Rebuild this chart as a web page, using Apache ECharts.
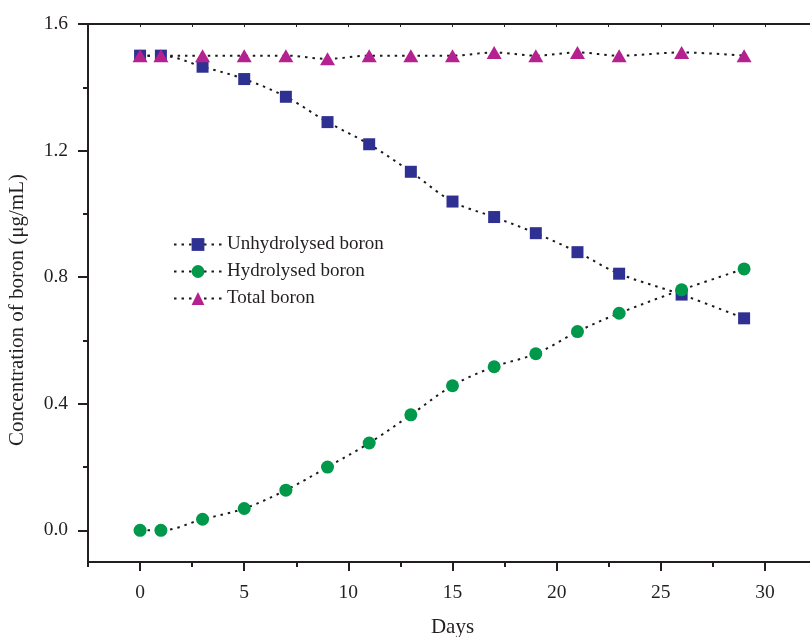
<!DOCTYPE html>
<html>
<head>
<meta charset="utf-8">
<script src="https://cdn.jsdelivr.net/npm/echarts@6/dist/echarts.min.js"></script>
<style>
  html, body { margin: 0; padding: 0; background: #fff; }
  #chart { width: 810px; height: 637px; }
</style>
</head>
<body>
<div id="chart"></div>
<script>
// Boron concentration over time
const days = [0, 1, 3, 5, 7, 9, 11, 13, 15, 17, 19, 21, 23, 26, 29];
const unhydrolysed = [1.50, 1.50, 1.465, 1.426, 1.370, 1.290, 1.220, 1.133, 1.039, 0.990, 0.939, 0.879, 0.811, 0.745, 0.670];
const hydrolysed = [0.0, 0.0, 0.035, 0.069, 0.127, 0.200, 0.276, 0.365, 0.457, 0.517, 0.558, 0.628, 0.686, 0.760, 0.826];
const total = [1.50, 1.50, 1.50, 1.50, 1.50, 1.49, 1.50, 1.50, 1.50, 1.51, 1.50, 1.51, 1.50, 1.51, 1.50];

const seriesNames = ['Unhydrolysed boron', 'Hydrolysed boron', 'Total boron'];

// Tick positions
const xMajorTicks = [0, 5, 10, 15, 20, 25, 30];
const xMinorTicks = [-2.5, 2.5, 7.5, 12.5, 17.5, 22.5, 27.5, 32.5];
const yMajorTicks = [0, 0.4, 0.8, 1.2, 1.6];
const yMinorTicks = [0.2, 0.6, 1.0, 1.4];

const FONT = '"Liberation Serif", "Times New Roman", serif';
const INK = '#231f20';
const X_MIN = -2.5, X_MAX = 32.5, Y_MIN = -0.1, Y_MAX = 1.6;

const pair = (xs, ys) => xs.map((x, i) => [x, ys[i]]);

const dotted = { color: '#1a1a1a', width: 2, type: [2.5, 5] };

const chart = echarts.init(document.getElementById('chart'), null, { renderer: 'canvas' });

chart.setOption({
  animation: false,
  backgroundColor: '#fff',
  grid: { left: 88, right: -7, top: 24, bottom: 75, containLabel: false, outerBoundsMode: 'none' },
  legend: {
    orient: 'vertical',
    left: 173,
    top: 235,
    padding: 0,
    itemWidth: 48,
    itemHeight: 16,
    itemGap: 8,
    data: seriesNames,
    textStyle: { fontFamily: FONT, fontSize: 19, color: INK }
  },
  xAxis: [
    {
      type: 'value', position: 'bottom', min: X_MIN, max: X_MAX,
      name: 'Days', nameLocation: 'middle', nameGap: 55,
      nameTextStyle: { fontFamily: FONT, fontSize: 21, color: INK },
      axisLine: { show: true, onZero: false, lineStyle: { color: INK, width: 2 } },
      axisTick: { show: true, inside: false, length: 9, customValues: xMajorTicks, lineStyle: { color: INK, width: 2 } },
      axisLabel: { show: true, margin: 21, customValues: xMajorTicks, fontFamily: FONT, fontSize: 19.5, color: INK },
      splitLine: { show: false }
    },
    {
      type: 'value', position: 'bottom', min: X_MIN, max: X_MAX,
      axisLine: { show: false, onZero: false },
      axisTick: { show: true, inside: false, length: 5, customValues: xMinorTicks, lineStyle: { color: INK, width: 2 } },
      axisLabel: { show: false },
      splitLine: { show: false }
    },
    {
      type: 'value', position: 'top', min: X_MIN, max: X_MAX, interval: 2.5,
      axisLine: { show: true, onZero: false, lineStyle: { color: INK, width: 2 } },
      axisTick: { show: true, inside: true, length: 3, lineStyle: { color: INK, width: 1 } },
      axisLabel: { show: false },
      splitLine: { show: false }
    }
  ],
  yAxis: [
    {
      type: 'value', position: 'left', min: Y_MIN, max: Y_MAX,
      name: 'Concentration of boron (μg/mL)', nameLocation: 'middle', nameGap: 60,
      nameTextStyle: { fontFamily: FONT, fontSize: 21, color: INK, padding: [0, 34, 0, 0] },
      axisLine: { show: true, onZero: false, lineStyle: { color: INK, width: 2 } },
      axisTick: { show: true, inside: false, length: 10, customValues: yMajorTicks, lineStyle: { color: INK, width: 2 } },
      axisLabel: {
        show: true, margin: 20, customValues: yMajorTicks,
        fontFamily: FONT, fontSize: 19.5, color: INK,
        formatter: v => Number(v).toFixed(1)
      },
      splitLine: { show: false }
    },
    {
      type: 'value', position: 'left', min: Y_MIN, max: Y_MAX,
      axisLine: { show: false, onZero: false },
      axisTick: { show: true, inside: false, length: 5, customValues: yMinorTicks, lineStyle: { color: INK, width: 2 } },
      axisLabel: { show: false },
      splitLine: { show: false }
    }
  ],
  series: [
    {
      name: seriesNames[0], type: 'line', xAxisIndex: 0, yAxisIndex: 0,
      data: pair(days, unhydrolysed), smooth: 0.35,
      symbol: 'rect', symbolSize: 12, showAllSymbol: true,
      itemStyle: { color: '#2e3192' },
      lineStyle: dotted
    },
    {
      name: seriesNames[1], type: 'line', xAxisIndex: 0, yAxisIndex: 0,
      data: pair(days, hydrolysed), smooth: 0.35,
      symbol: 'circle', symbolSize: 13, showAllSymbol: true,
      itemStyle: { color: '#00984a' },
      lineStyle: dotted
    },
    {
      name: seriesNames[2], type: 'line', xAxisIndex: 0, yAxisIndex: 0,
      data: pair(days, total), smooth: 0.35,
      symbol: 'triangle', symbolSize: [15, 13], showAllSymbol: true,
      itemStyle: { color: '#b5218e' },
      lineStyle: dotted
    }
  ]
});
</script>
</body>
</html>
